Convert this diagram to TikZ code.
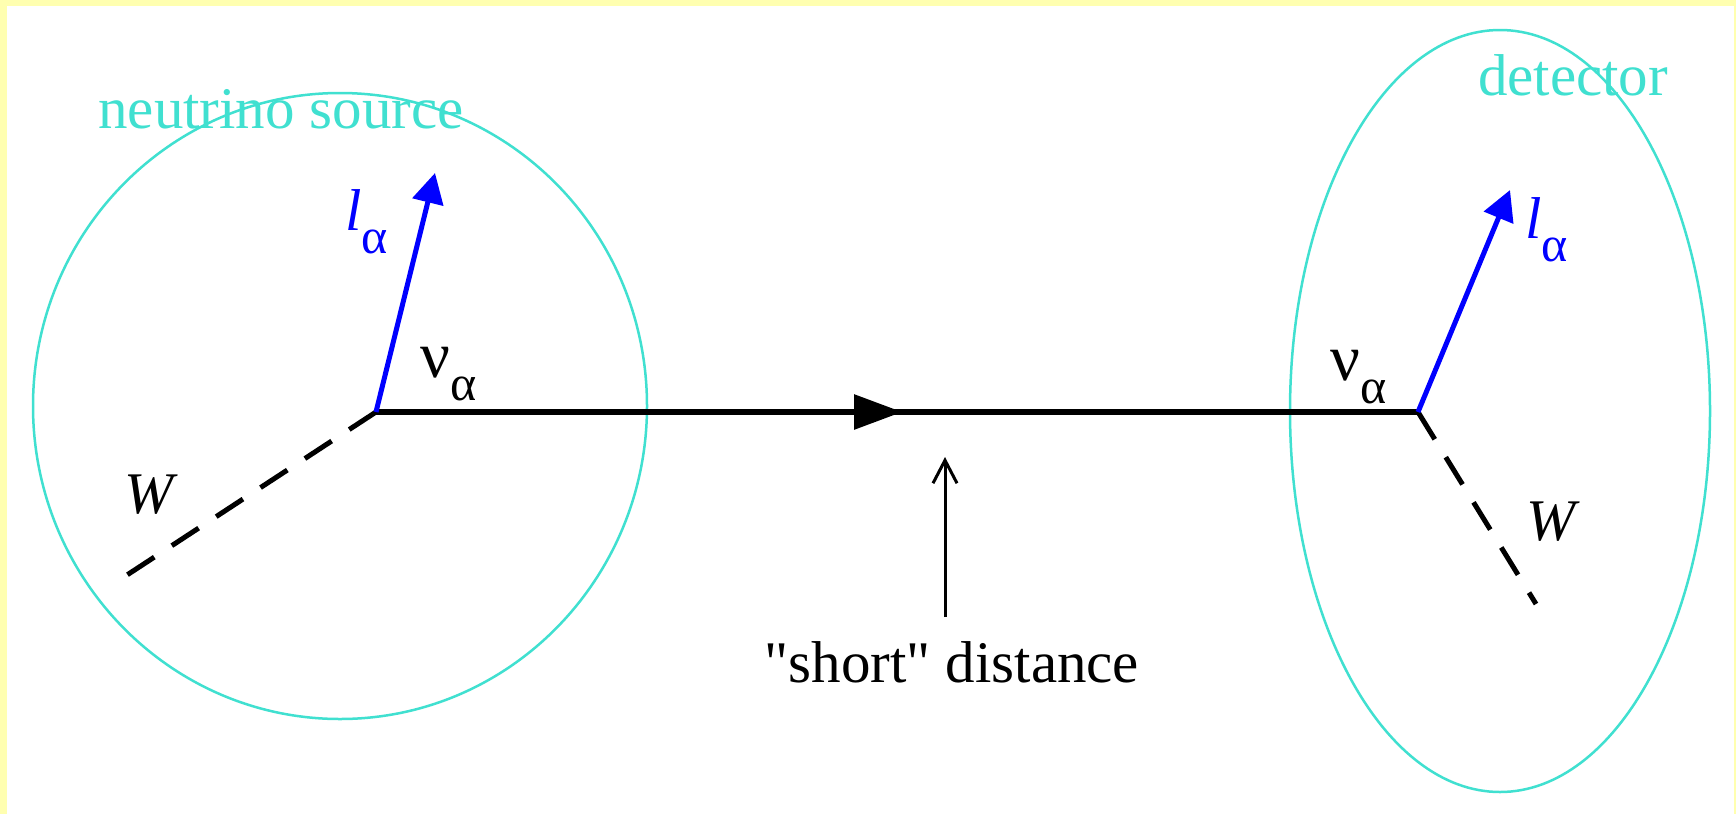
\documentclass[tikz,border=0pt]{standalone}
\usepackage{fontspec}
\setmainfont{Liberation Serif}
\usetikzlibrary{arrows.meta,decorations.markings}
\definecolor{srcturq}{RGB}{64,224,208}
\definecolor{pageyellow}{RGB}{255,255,176}
\newcommand{\flav}[1]{\raisebox{-23pt}{\fontsize{50}{50}\selectfont #1}}
\newcommand{\nusym}{{\fontsize{66}{66}\selectfont ν}}

\begin{document}
\begin{tikzpicture}[x=1pt, y=-1pt,
        font=\fontsize{59}{60}\selectfont,
        region/.style={draw=srcturq, line width=2.5pt},
        regionlabel/.style={text=srcturq, anchor=base, inner sep=0pt},
        lbl/.style={inner sep=0pt},
        lepton/.style={blue, line width=5pt, -{Triangle[length=30pt,width=31pt]}},
        nuline/.style={line width=5.5pt, postaction={decorate},
                       decoration={markings, mark=at position 0.505 with
                       {\arrow{Triangle[length=48pt,width=34pt]}}}},
        boson/.style={line width=5pt, dash pattern=on 32pt off 21pt},
        pointer/.style={line width=3pt, -{Straight Barb[length=23pt,width=24pt]}}
      ]
        \fill[pageyellow] (0,0) rectangle (1736,814);
        \fill[white] (7,6) rectangle (1734,814);
        \useasboundingbox (0,0) rectangle (1736,814);

        \draw[region] (340,406) ellipse [x radius=307, y radius=313];
        \draw[region] (1500,411) ellipse [x radius=210, y radius=381];
        \node[regionlabel] (srclabel) at (281,128) {neutrino source};
        \node[regionlabel] (detlabel) at (1573,95) {detector};

        \coordinate (src) at (376,412);
        \coordinate (det) at (1418,412);
        \coordinate (lsrc) at (435,173);
        \coordinate (ldet) at (1510,190);
        \coordinate (wsrc) at (127,575);
        \coordinate (wdet) at (1536,604);

        \draw[boson] (src) -- (wsrc);
        \draw[boson] (det) -- (wdet);
        \draw[nuline] (src) -- (det);
        \draw[lepton] (src) -- (lsrc);
        \draw[lepton] (det) -- (ldet);

        \node[lbl, text=blue, anchor=base west] (lsrclbl) at (345,230) {\textit{l}\flav{α}};
        \node[lbl, text=blue, anchor=base west] (ldetlbl) at (1525,238) {\textit{l}\flav{α}};
        \node[lbl, anchor=base west] (nusrclbl) at (420,377) {\nusym\flav{α}};
        \node[lbl, anchor=base west] (nudetlbl) at (1330,380) {\nusym\flav{α}};
        \node[lbl, anchor=base] (wsrclbl) at (151,513) {\textit{W}};
        \node[lbl, anchor=base] (wdetlbl) at (1553,540) {\textit{W}};

        \coordinate (gapfoot) at (945,617);
        \coordinate (gaptip) at (945,457);
        \draw[pointer] (gapfoot) -- (gaptip);
        \node[lbl, anchor=base] (gaplbl) at (952,682) {\textquotedbl short\textquotedbl{} distance};
      \end{tikzpicture}
\end{document}
